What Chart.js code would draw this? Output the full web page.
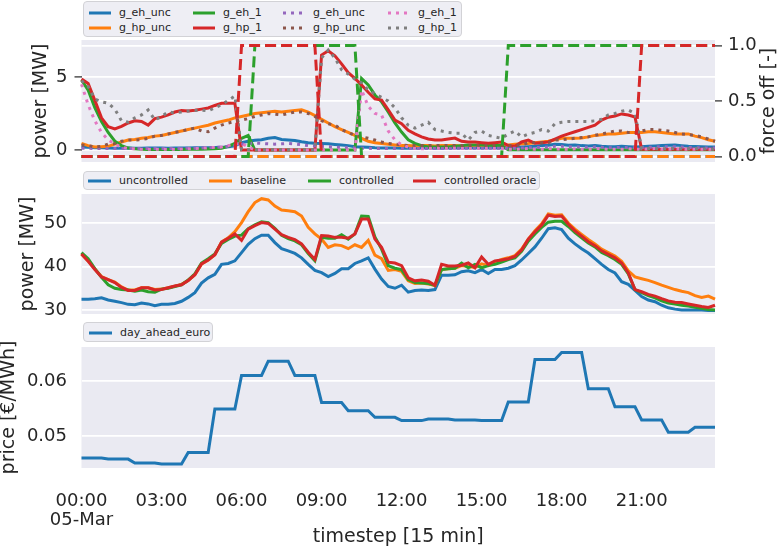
<!DOCTYPE html>
<html lang="en">
<head>
<meta charset="UTF-8">
<title>Force-off control, 05-Mar</title>
<script src="https://cdn.jsdelivr.net/npm/chart.js@4.4.1/dist/chart.umd.min.js"></script>
<style>
  body { margin: 0; background: #fff; font-family: "DejaVu Sans", sans-serif; }
  #fig { position: relative; width: 782px; height: 548px; overflow: hidden; }
  canvas { position: absolute; left: 0; }
  .legend { position: absolute; box-sizing: border-box; background: #eeeef4; border: 1px solid #d2d2d6; border-radius: 4px; z-index: 2; }
  .item { position: absolute; display: flex; align-items: center; height: 14px; white-space: nowrap; font-size: 11px; line-height: 14px; color: #262626; }
  .item svg { margin-right: 8px; }
</style>
</head>
<body>
<div id="fig">
  <canvas id="c1" width="782" height="175" style="top:0"></canvas>
  <canvas id="c2" width="782" height="150" style="top:175px"></canvas>
  <canvas id="c3" width="782" height="223" style="top:325px"></canvas>
  <div class="legend" id="leg1" style="left:83px; top:1px; width:379px; height:36px"></div>
  <div class="legend" id="leg2" style="left:83px; top:171px; width:457px; height:19px"></div>
  <div class="legend" id="leg3" style="left:83px; top:322px; width:130px; height:20px"></div>
</div>
<script>
const timesteps = [
  '00:00','00:15','00:30','00:45','01:00','01:15','01:30','01:45',
  '02:00','02:15','02:30','02:45','03:00','03:15','03:30','03:45',
  '04:00','04:15','04:30','04:45','05:00','05:15','05:30','05:45',
  '06:00','06:15','06:30','06:45','07:00','07:15','07:30','07:45',
  '08:00','08:15','08:30','08:45','09:00','09:15','09:30','09:45',
  '10:00','10:15','10:30','10:45','11:00','11:15','11:30','11:45',
  '12:00','12:15','12:30','12:45','13:00','13:15','13:30','13:45',
  '14:00','14:15','14:30','14:45','15:00','15:15','15:30','15:45',
  '16:00','16:15','16:30','16:45','17:00','17:15','17:30','17:45',
  '18:00','18:15','18:30','18:45','19:00','19:15','19:30','19:45',
  '20:00','20:15','20:30','20:45','21:00','21:15','21:30','21:45',
  '22:00','22:15','22:30','22:45','23:00','23:15','23:30','23:45'
];
const dateLabel = '05-Mar';

// top panel: heat demand per group [MW]
const gEhUnc = [
  0.20,0.18,0.15,0.15,0.13,0.12,0.12,0.13, 0.12,0.12,0.13,0.14,0.13,0.12,0.13,0.14,
  0.14,0.15,0.15,0.16,0.17,0.18,0.22,0.28, 0.50,0.60,0.66,0.70,0.80,0.85,0.72,0.68,
  0.65,0.56,0.50,0.46,0.45,0.42,0.38,0.35, 0.30,0.22,0.20,0.18,0.15,0.14,0.13,0.13,
  0.12,0.13,0.12,0.14,0.13,0.12,0.12,0.13, 0.15,0.14,0.13,0.15,0.14,0.13,0.15,0.14,
  0.15,0.18,0.20,0.22,0.25,0.30,0.32,0.40, 0.38,0.32,0.35,0.30,0.28,0.30,0.25,0.22,
  0.22,0.25,0.22,0.20,0.22,0.25,0.28,0.30, 0.32,0.35,0.30,0.25,0.24,0.22,0.20,0.20
];
const gHpUnc = [
  0.45,0.30,0.20,0.22,0.25,0.40,0.55,0.68, 0.72,0.80,0.85,0.95,1.00,1.10,1.20,1.30,
  1.40,1.50,1.60,1.70,1.85,1.95,2.05,2.20, 2.30,2.40,2.50,2.55,2.60,2.65,2.60,2.65,
  2.70,2.75,2.60,2.35,2.10,1.85,1.60,1.40, 1.20,1.00,0.80,0.60,0.50,0.45,0.40,0.35,
  0.30,0.30,0.28,0.30,0.30,0.28,0.30,0.30, 0.30,0.28,0.30,0.30,0.30,0.30,0.30,0.32,
  0.35,0.40,0.42,0.45,0.50,0.55,0.60,0.70, 0.80,0.80,0.80,0.82,0.90,1.00,1.05,1.10,
  1.10,1.15,1.20,1.20,1.20,1.25,1.25,1.20, 1.15,1.10,1.10,1.10,0.95,0.85,0.70,0.60
];
const gEh1 = [
  4.80,4.10,2.90,1.95,1.20,0.60,0.30,0.13, 0.08,0.05,0.04,0.04,0.04,0.04,0.04,0.04,
  0.05,0.05,0.05,0.06,0.08,0.12,0.25,0.45, 0.80,1.00,0.00,0.00,0.00,0.00,0.00,0.00,
  0.00,0.00,0.00,0.00,0.00,0.00,0.00,0.00, 0.00,0.00,4.90,4.45,3.77,3.30,2.60,1.85,
  1.23,0.70,0.45,0.30,0.20,0.20,0.20,0.20, 0.25,0.30,0.35,0.35,0.35,0.30,0.30,0.30,
  0.02,0.02,0.02,0.02,0.02,0.02,0.02,0.02, 0.02,0.02,0.02,0.02,0.02,0.02,0.02,0.02,
  0.02,0.02,0.02,0.02,0.02,0.02,0.02,0.02, 0.02,0.02,0.02,0.02,0.02,0.02,0.02,0.02
];
const gHp1 = [
  4.86,4.55,3.40,2.20,1.60,1.44,1.62,1.85, 2.00,1.95,1.70,2.15,2.25,2.40,2.60,2.70,
  2.67,2.72,2.80,2.88,3.05,3.20,3.20,3.20, 0.00,0.00,0.00,0.00,0.00,0.00,0.00,0.00,
  0.00,0.00,0.00,0.00,6.50,6.80,6.45,5.90, 5.30,4.90,4.45,3.95,3.50,3.42,2.75,2.05,
  1.80,1.35,1.10,0.90,0.75,0.68,0.68,0.75, 0.82,0.60,0.55,0.55,0.50,0.46,0.50,0.55,
  0.30,0.25,0.55,0.68,0.46,0.50,0.55,0.75, 0.95,1.10,1.25,1.40,1.55,1.70,2.05,2.25,
  2.33,2.47,2.40,2.26,0.05,0.05,0.05,0.05, 0.05,0.05,0.05,0.05,0.05,0.05,0.05,0.05
];
const gEhUncAlt = [
  0.12,0.12,0.10,0.10,0.10,0.10,0.10,0.10, 0.10,0.10,0.10,0.10,0.10,0.10,0.10,0.10,
  0.12,0.12,0.14,0.16,0.18,0.20,0.25,0.30, 0.40,0.45,0.48,0.45,0.42,0.40,0.42,0.45,
  0.42,0.36,0.30,0.28,0.25,0.22,0.20,0.18, 0.16,0.14,0.12,0.12,0.10,0.10,0.10,0.10,
  0.10,0.10,0.10,0.10,0.10,0.10,0.10,0.10, 0.12,0.12,0.12,0.12,0.12,0.12,0.12,0.12,
  0.12,0.12,0.14,0.15,0.16,0.18,0.20,0.25, 0.25,0.22,0.20,0.20,0.18,0.20,0.18,0.16,
  0.16,0.18,0.16,0.15,0.16,0.18,0.20,0.22, 0.22,0.22,0.20,0.18,0.16,0.15,0.14,0.14
];
const gHpUncAlt = [
  0.35,0.30,0.20,0.25,0.40,0.45,0.60,0.68, 0.68,0.70,0.80,0.95,1.00,1.10,1.20,1.30,
  1.40,1.50,1.30,1.25,1.50,1.70,1.85,1.95, 2.05,2.15,2.30,2.40,2.50,2.45,2.40,2.50,
  2.60,2.60,2.50,2.30,2.00,1.80,1.70,1.40, 1.20,1.00,0.90,0.80,0.68,0.55,0.45,0.40,
  0.35,0.30,0.30,0.30,0.30,0.30,0.30,0.30, 0.30,0.30,0.30,0.30,0.30,0.30,0.30,0.30,
  0.30,0.32,0.35,0.50,0.50,0.50,0.50,0.68, 0.70,0.75,0.80,0.85,0.90,1.00,1.10,1.20,
  1.30,1.30,1.20,1.20,1.30,1.40,1.40,1.35, 1.30,1.20,1.10,1.05,1.00,0.90,0.75,0.60
];
const gEh1Alt = [
  4.50,3.10,2.00,1.20,0.70,0.40,0.20,0.10, 0.08,0.05,0.05,0.05,0.06,0.05,0.05,0.06,
  0.08,0.10,0.12,0.15,0.18,0.20,0.30,0.40, 0.45,0.20,0.00,0.00,0.00,0.00,0.00,0.00,
  0.00,0.00,0.00,0.00,0.00,0.00,0.00,0.00, 0.00,0.00,4.10,3.00,2.50,2.40,1.30,0.70,
  0.35,0.20,0.10,0.08,0.10,0.12,0.10,0.10, 0.12,0.10,0.10,0.12,0.10,0.12,0.10,0.10,
  0.05,0.05,0.08,0.10,0.05,0.05,0.10,0.08, 0.05,0.05,0.08,0.05,0.05,0.10,0.08,0.05,
  0.05,0.05,0.08,0.05,0.05,0.08,0.10,0.05, 0.05,0.08,0.05,0.05,0.05,0.05,0.05,0.05
];
const gHp1Alt = [
  4.75,4.35,3.50,3.30,3.20,2.80,2.00,1.90, 2.20,2.40,2.74,2.05,2.30,2.60,2.55,2.60,
  2.67,2.70,2.74,2.67,2.90,3.10,3.40,3.70, 0.02,0.02,0.02,0.02,0.02,0.02,0.02,0.02,
  0.02,0.02,0.02,0.02,6.30,6.85,6.30,5.50, 5.20,4.85,4.60,4.10,3.85,3.60,3.35,2.90,
  2.20,1.70,1.50,1.70,1.90,1.40,1.30,1.20, 1.15,1.15,0.68,1.20,1.30,1.00,0.90,0.80,
  1.10,1.30,0.90,1.10,1.20,1.40,1.30,1.80, 1.90,1.95,1.95,1.95,1.95,2.00,2.10,2.40,
  2.50,2.65,2.74,2.50,0.08,0.10,0.10,0.08, 0.10,0.10,0.08,0.08,0.10,0.08,0.06,0.05
];

// top panel, right axis: force off signals [-]
const forceOffEhUnc = [
  0,0,0,0,0,0,0,0, 0,0,0,0,0,0,0,0, 0,0,0,0,0,0,0,0, 0,0,0,0,0,0,0,0,
  0,0,0,0,0,0,0,0, 0,0,0,0,0,0,0,0, 0,0,0,0,0,0,0,0, 0,0,0,0,0,0,0,0,
  0,0,0,0,0,0,0,0, 0,0,0,0,0,0,0,0, 0,0,0,0,0,0,0,0, 0,0,0,0,0,0,0,0
];
const forceOffHpUnc = [
  0,0,0,0,0,0,0,0, 0,0,0,0,0,0,0,0, 0,0,0,0,0,0,0,0, 0,0,0,0,0,0,0,0,
  0,0,0,0,0,0,0,0, 0,0,0,0,0,0,0,0, 0,0,0,0,0,0,0,0, 0,0,0,0,0,0,0,0,
  0,0,0,0,0,0,0,0, 0,0,0,0,0,0,0,0, 0,0,0,0,0,0,0,0, 0,0,0,0,0,0,0,0
];
const forceOffEh1 = [
  0,0,0,0,0,0,0,0, 0,0,0,0,0,0,0,0, 0,0,0,0,0,0,0,0, 0,0,1,1,1,1,1,1,
  1,1,1,1,1,1,1,1, 1,1,0,0,0,0,0,0, 0,0,0,0,0,0,0,0, 0,0,0,0,0,0,0,0,
  1,1,1,1,1,1,1,1, 1,1,1,1,1,1,1,1, 1,1,1,1,1,1,1,1, 1,1,1,1,1,1,1,1
];
const forceOffHp1 = [
  0,0,0,0,0,0,0,0, 0,0,0,0,0,0,0,0, 0,0,0,0,0,0,0,0, 1,1,1,1,1,1,1,1,
  1,1,1,1,0,0,0,0, 0,0,0,0,0,0,0,0, 0,0,0,0,0,0,0,0, 0,0,0,0,0,0,0,0,
  0,0,0,0,0,0,0,0, 0,0,0,0,0,0,0,0, 0,0,0,0,1,1,1,1, 1,1,1,1,1,1,1,1
];

// middle panel: total power [MW]
const uncontrolled = [
  32.5,32.5,32.6,32.8,32.3,32.0,31.7,31.3, 31.2,31.6,31.4,31.0,31.3,31.3,31.5,32.0,
  32.9,34.0,36.2,37.4,38.2,40.5,40.7,41.3, 43.2,45.1,46.4,47.2,47.2,45.5,44.1,43.6,
  43.0,42.0,40.5,39.1,38.6,37.7,38.4,39.5, 39.5,40.7,41.3,42.0,39.4,37.1,35.4,35.0,
  35.7,34.1,34.5,34.6,34.5,34.7,38.0,38.0, 38.1,38.8,39.0,38.6,39.3,38.4,39.3,39.3,
  39.6,40.2,41.5,43.0,44.5,46.5,48.7,48.9, 48.5,46.5,45.2,44.1,43.1,41.8,40.5,39.3,
  38.5,36.5,35.9,34.5,33.1,32.3,31.9,31.1, 30.5,30.2,30.0,30.0,30.0,30.0,29.9,29.9
];
const baseline = [
  42.9,41.3,39.4,37.7,37.0,36.4,35.3,34.6, 34.6,35.1,35.1,34.7,34.8,35.1,35.5,35.9,
  36.8,38.1,40.6,41.5,42.7,45.6,46.6,48.0, 50.1,52.6,54.7,55.6,55.3,53.9,53.0,52.8,
  52.6,51.6,49.0,47.5,46.3,44.4,45.0,44.8, 44.1,45.0,44.4,46.0,42.6,41.8,39.1,39.3,
  38.9,36.7,36.1,36.2,36.0,35.6,39.3,39.5, 39.6,40.2,40.0,39.8,40.6,40.2,41.0,41.6,
  42.0,42.5,44.0,46.3,48.2,49.8,52.1,51.8, 51.9,50.0,48.6,47.4,46.2,45.2,44.0,43.2,
  42.4,41.2,39.0,37.6,37.2,36.8,36.3,35.7, 35.2,34.7,34.3,34.0,33.3,32.9,33.2,32.5
];
const controlled = [
  43.2,41.8,39.5,37.5,35.8,35.0,34.7,34.6, 34.3,34.6,34.2,34.1,34.8,35.0,35.4,35.8,
  36.9,38.3,40.8,41.8,42.9,45.3,46.2,47.0, 47.2,48.7,49.6,50.3,50.1,48.8,47.2,46.4,
  45.9,45.0,43.0,41.3,46.7,46.5,46.5,47.3, 46.3,47.5,51.6,51.5,46.8,44.0,40.2,39.6,
  39.3,37.0,36.3,36.2,36.1,35.7,39.3,39.5, 39.6,40.8,39.7,40.5,39.7,40.2,40.5,41.0,
  41.6,42.0,43.5,45.8,47.5,49.0,50.2,50.4, 50.4,49.2,47.8,46.6,45.4,44.5,43.2,42.5,
  41.6,40.5,38.3,34.7,34.0,33.3,32.8,32.1, 31.6,31.4,31.1,30.9,30.6,30.4,30.1,30.0
];
const controlledOracle = [
  42.9,41.2,39.3,37.6,37.0,36.3,35.2,34.5, 34.5,35.1,35.1,34.6,34.7,35.1,35.5,35.8,
  36.8,38.1,40.6,41.5,42.7,45.6,46.5,47.5, 46.0,48.6,49.4,50.1,49.9,48.6,47.3,46.7,
  46.2,45.2,43.3,41.6,47.1,47.0,46.7,46.7, 46.5,47.5,50.9,50.9,46.3,44.4,41.0,40.8,
  40.2,37.4,36.7,36.9,36.6,35.7,40.5,40.1, 40.1,40.3,40.8,39.7,42.2,40.5,41.3,41.5,
  41.8,42.3,43.8,46.3,48.0,49.5,51.8,51.5, 51.6,49.7,48.2,47.0,45.7,44.8,43.6,42.8,
  42.0,40.8,38.5,34.7,34.2,33.6,33.2,32.6, 32.1,31.8,31.7,31.4,31.1,30.8,30.6,31.1
];

// bottom panel: day ahead price [EUR/MWh]
const dayAheadEuro = [
  0.0460,0.0460,0.0460,0.0460,0.0458,0.0458,0.0458,0.0458, 0.0451,0.0451,0.0451,0.0451,0.0449,0.0449,0.0449,0.0449,
  0.0470,0.0470,0.0470,0.0470,0.0549,0.0549,0.0549,0.0549, 0.0610,0.0610,0.0610,0.0610,0.0636,0.0636,0.0636,0.0636,
  0.0610,0.0610,0.0610,0.0610,0.0561,0.0561,0.0561,0.0561, 0.0546,0.0546,0.0546,0.0546,0.0534,0.0534,0.0534,0.0534,
  0.0528,0.0528,0.0528,0.0528,0.0531,0.0531,0.0531,0.0531, 0.0529,0.0529,0.0529,0.0529,0.0528,0.0528,0.0528,0.0528,
  0.0562,0.0562,0.0562,0.0562,0.0639,0.0639,0.0639,0.0639, 0.0652,0.0652,0.0652,0.0652,0.0586,0.0586,0.0586,0.0586,
  0.0553,0.0553,0.0553,0.0553,0.0529,0.0529,0.0529,0.0529, 0.0507,0.0507,0.0507,0.0507,0.0516,0.0516,0.0516,0.0516
];

const powerTicksTop = [0, 5];
const forceOffTicks = [0, 0.5, 1.0];
const powerTicks = [30, 40, 50];
const priceTicks = [0.05, 0.06];

const C = {
  blue: '#1f77b4', orange: '#ff7f0e', green: '#2ca02c', red: '#d62728',
  purple: '#9467bd', brown: '#8c564b', pink: '#e377c2', grey: '#7f7f7f'
};
const DOT = [3, 5];
const DASH = [11, 5];
const TXT = '#262626';
const FAM = 'DejaVu Sans';

Chart.defaults.font.family = FAM;
Chart.defaults.color = TXT;

const plotBg = {
  id: 'plotBg',
  beforeDraw(chart) {
    const a = chart.chartArea, ctx = chart.ctx;
    ctx.save();
    ctx.fillStyle = '#eaeaf2';
    ctx.fillRect(a.left, a.top, a.right - a.left, a.bottom - a.top);
    ctx.restore();
  }
};

const rightTitle = {
  id: 'rightTitle',
  afterDraw(chart) {
    const a = chart.chartArea, ctx = chart.ctx;
    ctx.save();
    ctx.translate(769, (a.top + a.bottom) / 2);
    ctx.rotate(-Math.PI / 2);
    ctx.font = '19px "DejaVu Sans"';
    ctx.fillStyle = TXT;
    ctx.textAlign = 'center';
    ctx.textBaseline = 'middle';
    ctx.fillText('force off [-]', 0, 0);
    ctx.restore();
  }
};

function ds(label, data, color, opts) {
  return Object.assign({
    label: label, data: data, borderColor: color, backgroundColor: color,
    borderWidth: 3, pointRadius: 0, fill: false, tension: 0
  }, opts || {});
}

function yAxis(opts) {
  const o = {
    min: opts.min, max: opts.max, position: opts.position || 'left',
    afterFit: s => { s.width = opts.width; s.paddingTop = 0; s.paddingBottom = 0; },
    afterBuildTicks: s => { s.ticks = opts.ticks.map(v => ({ value: v })); },
    border: { display: false },
    grid: {
      color: '#ffffff', lineWidth: 1.8,
      drawTicks: !!opts.tickMarks, tickLength: 7, tickColor: TXT, tickWidth: 1.2
    },
    ticks: { padding: opts.pad, color: TXT, font: { size: 18, lineHeight: 1.2 }, callback: opts.fmt }
  };
  if (opts.title) {
    o.title = {
      display: true, text: opts.title, color: TXT,
      font: { size: 19, lineHeight: 1 }, padding: { top: opts.titlePad, bottom: 0 }
    };
  }
  return o;
}

const common = {
  responsive: false,
  animation: false,
  events: [],
  plugins: { legend: { display: false }, tooltip: { enabled: false } }
};

// top panel
new Chart(document.getElementById('c1'), {
  type: 'line',
  data: {
    labels: timesteps,
    datasets: [
      ds('g_eh_unc', gEhUnc, C.blue, { order: 11 }),
      ds('g_hp_unc', gHpUnc, C.orange, { order: 10 }),
      ds('g_eh_1', gEh1, C.green, { order: 9 }),
      ds('g_hp_1', gHp1, C.red, { order: 8 }),
      ds('g_eh_unc', gEhUncAlt, C.purple, { order: 7, borderDash: DOT }),
      ds('g_hp_unc', gHpUncAlt, C.brown, { order: 6, borderDash: DOT }),
      ds('g_eh_1', gEh1Alt, C.pink, { order: 5, borderDash: DOT }),
      ds('g_hp_1', gHp1Alt, C.grey, { order: 4, borderDash: DOT }),
      ds('force_off_eh_unc', forceOffEhUnc, C.blue, { order: 3, borderDash: DASH, yAxisID: 'y1' }),
      ds('force_off_hp_unc', forceOffHpUnc, C.orange, { order: 2, borderDash: DASH, yAxisID: 'y1' }),
      ds('force_off_eh_1', forceOffEh1, C.green, { order: 1, borderDash: DASH, yAxisID: 'y1' }),
      ds('force_off_hp_1', forceOffHp1, C.red, { order: 0, borderDash: DASH, yAxisID: 'y1' })
    ]
  },
  options: Object.assign({}, common, {
    layout: { padding: { top: 40, bottom: 13, left: 0, right: 0 } },
    scales: {
      x: { display: false, offset: false },
      y: yAxis({ min: -0.822, max: 7.534, width: 81.5, ticks: powerTicksTop, tickMarks: true, pad: 7,
                 fmt: v => String(v), title: 'power [MW]', titlePad: 31.5 }),
      y1: yAxis({ min: -0.05, max: 1.05, width: 67, position: 'right', ticks: forceOffTicks, tickMarks: true, pad: 6,
                  fmt: v => v.toFixed(1) })
    }
  }),
  plugins: [plotBg, rightTitle]
});

// middle panel
new Chart(document.getElementById('c2'), {
  type: 'line',
  data: {
    labels: timesteps,
    datasets: [
      ds('uncontrolled', uncontrolled, C.blue, { order: 3 }),
      ds('baseline', baseline, C.orange, { order: 2 }),
      ds('controlled', controlled, C.green, { order: 1 }),
      ds('controlled oracle', controlledOracle, C.red, { order: 0 })
    ]
  },
  options: Object.assign({}, common, {
    layout: { padding: { top: 19, bottom: 11, left: 0, right: 67 } },
    scales: {
      x: { display: false, offset: false },
      y: yAxis({ min: 29.08, max: 56.67, width: 81.5, ticks: powerTicks, pad: 14.5,
                 fmt: v => String(v), title: 'power [MW]', titlePad: 18.5 })
    }
  }),
  plugins: [plotBg]
});

// bottom panel
new Chart(document.getElementById('c3'), {
  type: 'line',
  data: {
    labels: timesteps,
    datasets: [ ds('day_ahead_euro', dayAheadEuro, C.blue) ]
  },
  options: Object.assign({}, common, {
    layout: { padding: { top: 22, bottom: 0, left: 0, right: 67 } },
    scales: {
      x: {
        offset: false,
        afterFit: s => { s.height = 80; s.paddingLeft = 0; s.paddingRight = 0; },
        grid: { display: false },
        border: { display: false },
        ticks: {
          autoSkip: false, maxRotation: 0, padding: 15, color: TXT,
          font: { size: 18, lineHeight: 1.1 },
          callback: (v, i) => i % 12 === 0 ? (i === 0 ? [timesteps[i], dateLabel] : timesteps[i]) : null
        },
        title: {
          display: true, text: 'timestep [15 min]', color: TXT,
          font: { size: 19, lineHeight: 1 }, padding: { top: 0, bottom: 1.5 }
        }
      },
      y: yAxis({ min: 0.04418, max: 0.06618, width: 81.5, ticks: priceTicks, pad: 14.5,
                 fmt: v => v.toFixed(2), title: 'price [€/MWh]', titlePad: 0 })
    }
  }),
  plugins: [plotBg]
});

// legends (matplotlib style boxes)
function handle(color, dash, w) {
  const d = dash ? ' stroke-dasharray="' + dash.join(' ') + '"' : '';
  return '<svg width="' + w + '" height="6"><line x1="0" y1="3" x2="' + w + '" y2="3" stroke="' + color +
         '" stroke-width="3"' + d + '/></svg>';
}
function legend(id, items) {
  const box = document.getElementById(id);
  items.forEach(it => {
    const el = document.createElement('div');
    el.className = 'item';
    el.style.left = it.x + 'px';
    el.style.top = it.y + 'px';
    el.innerHTML = handle(it.color, it.dash, it.w || 22) + '<span>' + it.label + '</span>';
    box.appendChild(el);
  });
}
legend('leg1', [
  { label: 'g_eh_unc', color: C.blue, x: 5, y: 4 },
  { label: 'g_hp_unc', color: C.orange, x: 5, y: 19 },
  { label: 'g_eh_1', color: C.green, x: 109, y: 4 },
  { label: 'g_hp_1', color: C.red, x: 109, y: 19 },
  { label: 'g_eh_unc', color: C.purple, dash: DOT, x: 199, y: 4 },
  { label: 'g_hp_unc', color: C.brown, dash: DOT, x: 199, y: 19 },
  { label: 'g_eh_1', color: C.pink, dash: DOT, x: 304, y: 4 },
  { label: 'g_hp_1', color: C.grey, dash: DOT, x: 304, y: 19 }
]);
legend('leg2', [
  { label: 'uncontrolled', color: C.blue, x: 4, y: 2, w: 23 },
  { label: 'baseline', color: C.orange, x: 125, y: 2, w: 23 },
  { label: 'controlled', color: C.green, x: 224, y: 2, w: 23 },
  { label: 'controlled oracle', color: C.red, x: 329, y: 2, w: 23 }
]);
legend('leg3', [
  { label: 'day_ahead_euro', color: C.blue, x: 5, y: 3, w: 23 }
]);
</script>
</body>
</html>
